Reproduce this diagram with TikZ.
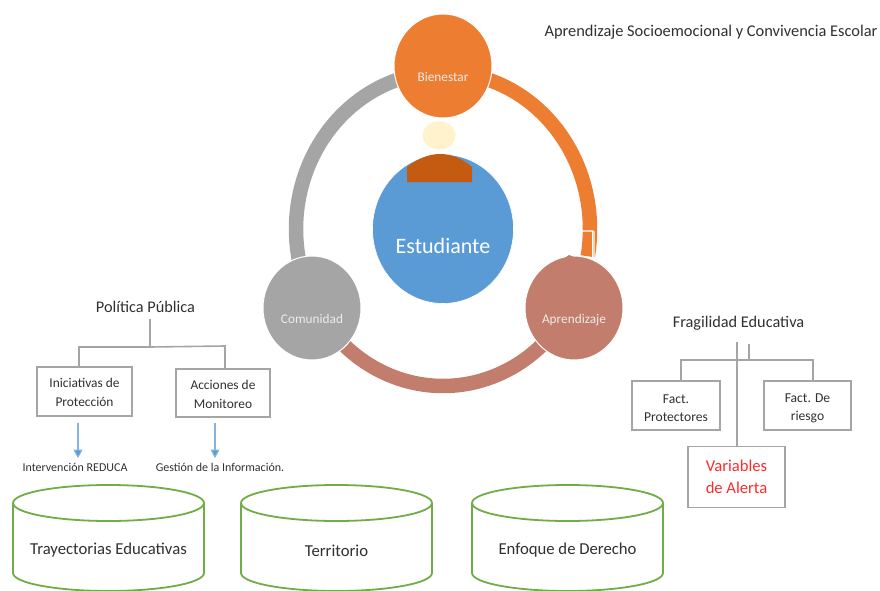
\documentclass[tikz,border=0pt]{standalone}
\usepackage{fontspec}
\setmainfont{Carlito}
\usetikzlibrary{shapes.geometric,arrows.meta}
\definecolor{cOrange}{HTML}{ED7D31}
\definecolor{cBrown}{HTML}{C37D6C}
\definecolor{cGray}{HTML}{A5A5A5}
\definecolor{cBlue}{HTML}{5B9BD5}
\definecolor{cGreen}{HTML}{70AD47}
\definecolor{cCream}{HTML}{FFF2CC}
\definecolor{cDome}{HTML}{C55A11}
\definecolor{cText}{HTML}{303030}
\definecolor{cRed}{HTML}{FF2A2A}
\newcommand{\dnA}{\rule{0pt}{12pt}}
\newcommand{\dnB}{\rule{0pt}{14pt}}
\newcommand{\lowered}[2]{\raisebox{-#1}[0pt][0pt]{#2}}
\tikzset{
  ringarc/.style={line width=14.5pt,line cap=butt},
  hub/.style={ellipse,draw=white,line width=1pt,inner sep=0pt,minimum width=98pt,minimum height=104pt,text=white!92!black,font=\fontsize{13.3}{15}\selectfont},
  label/.style={text=cText,inner sep=0pt,align=center},
  boxnode/.style={draw=cGray,line width=1.6pt,inner sep=0pt,align=center,text=cText,font=\fontsize{13.4}{19}\selectfont},
  conn/.style={draw=cGray,line width=1.6pt},
  bluearrow/.style={draw=cBlue!75,line width=1.1pt,shorten >=4.5pt,-{Triangle[length=8.5pt,width=9pt,fill=cBlue]}},
  drum/.style={draw=cGreen,line width=1.8pt,fill=white},
  drumtext/.style={text=cText,inner sep=0pt,font=\fontsize{16.7}{19}\selectfont}
}
\begin{document}
\begin{tikzpicture}[x=1pt,y=-1pt]
\useasboundingbox (0,0) rectangle (880,591);
% ring
\draw[ringarc,cGray] plot[domain=100:196,samples=60] ({443+147*cos(\x)},{229-157*sin(\x)});
\draw[ringarc,cOrange] plot[domain=80:-10,samples=60] ({443+147*cos(\x)},{229-157*sin(\x)});
\draw[ringarc,cBrown] plot[domain=225:315,samples=60] ({443+147*cos(\x)},{229-157*sin(\x)});
\draw[white,line width=1.1pt,rounded corners=1pt] (582,231) -- (594,231) -- (594,258);
\draw[white,line width=1pt] (592,231) -- (592,258);
% hubs
\node[hub,fill=cOrange] (bien) at (443,66) {\lowered{15.5pt}{Bienestar}};
\node[hub,fill=cGray] (comu) at (312,308) {\lowered{15.5pt}{Comunidad}};
\node[hub,fill=cBrown] (apre) at (574,308) {\lowered{15.5pt}{Aprendizaje}};
\fill[cBrown] (563,259) -- (569,255) -- (574,257) -- (574,262) -- cycle;
% centre
\node[ellipse,fill=cBlue,draw=white,line width=.6pt,inner sep=0pt,minimum width=141pt,minimum height=149pt,text=white,font=\fontsize{22}{25}\selectfont] (estu) at (443,229) {\lowered{24pt}{Estudiante}};
\node[ellipse,fill=cCream,inner sep=0pt,minimum width=33pt,minimum height=28pt] (head) at (439,135.5) {};
\fill[cDome] (407,182) -- (407,167) .. controls (418,158) and (430,154) .. (440,154) .. controls (452,154) and (463,159) .. (472,167) -- (472,182) -- cycle;
% title
\node[label,font=\fontsize{16.4}{19}\selectfont] (title) at (711,32.5) {Aprendizaje Socioemocional y Convivencia Escolar};
% left tree
\node[label,font=\fontsize{16.3}{19}\selectfont] (pp) at (145.5,306.5) {Política Pública};
\node[boxnode,minimum width=95pt,minimum height=49pt] (ini) at (84.5,391.5) {\dnA Iniciativas de\\Protección};
\node[boxnode,minimum width=94pt,minimum height=48pt] (acc) at (223,393) {\dnA Acciones de\\Monitoreo};
\coordinate (ppTop) at (150,319);
\coordinate (ppJ) at (150,347);
\coordinate (ppL) at (79,347);
\coordinate (ppR) at (225,346);
\draw[conn] (ppTop) -- (ppJ);
\draw[conn] (ini.north -| ppL) -- (ppL) -- (ppJ) -- (ppR) -- (acc.north -| ppR);
\node[label,font=\fontsize{12}{14}\selectfont] (interv) at (75,467) {Intervención REDUCA};
\node[label,font=\fontsize{12}{14}\selectfont] (gest) at (220,467) {Gestión de la Información.};
\coordinate (a1) at (78,423);
\coordinate (a2) at (215,423);
\draw[bluearrow] (a1) -- (a1 |- interv.north);
\draw[bluearrow] (a2) -- (a2 |- gest.north);
% right tree
\node[label,font=\fontsize{16.3}{19}\selectfont] (frag) at (738.5,323.5) {Fragilidad Educativa};
\node[boxnode,font=\fontsize{13.6}{18}\selectfont,minimum width=88pt,minimum height=49pt] (prot) at (676,405.5) {\dnB Fact.\\Protectores};
\node[boxnode,font=\fontsize{13.6}{18}\selectfont,minimum width=87pt,minimum height=49pt] (ries) at (807.5,405.5) {\dnB Fact. De\\riesgo};
\node[boxnode,text=cRed,font=\fontsize{16.6}{22}\selectfont,minimum width=97pt,minimum height=61pt] (vari) at (736.5,477) {Variables\\de Alerta};
\coordinate (frT1) at (737,342);
\coordinate (frT2) at (749,344);
\coordinate (frJ) at (749,360);
\coordinate (frL) at (681,360);
\coordinate (frR) at (813,360);
\draw[conn] (frT1) -- (frT1 |- vari.north);
\draw[conn] (frT2) -- (frJ);
\draw[conn] (prot.north -| frL) -- (frL) -- (frR) -- (ries.north -| frR);
% drums
\foreach \n/\cx in {d1/108.5,d2/336.5,d3/567.5}{
  \draw[drum] (\cx-95.5,503) -- (\cx-95.5,573) arc[start angle=180,end angle=0,x radius=95.5,y radius=18] -- (\cx+95.5,503);
  \draw[drum] (\cx,503) ellipse[x radius=95.5,y radius=18];
}
\node[drumtext] (d1t) at (108.5,550.5) {Trayectorias Educativas};
\node[drumtext] (d2t) at (336.5,550.5) {Territorio};
\node[drumtext] (d3t) at (567.5,550.5) {Enfoque de Derecho};
\end{tikzpicture}
\end{document}
